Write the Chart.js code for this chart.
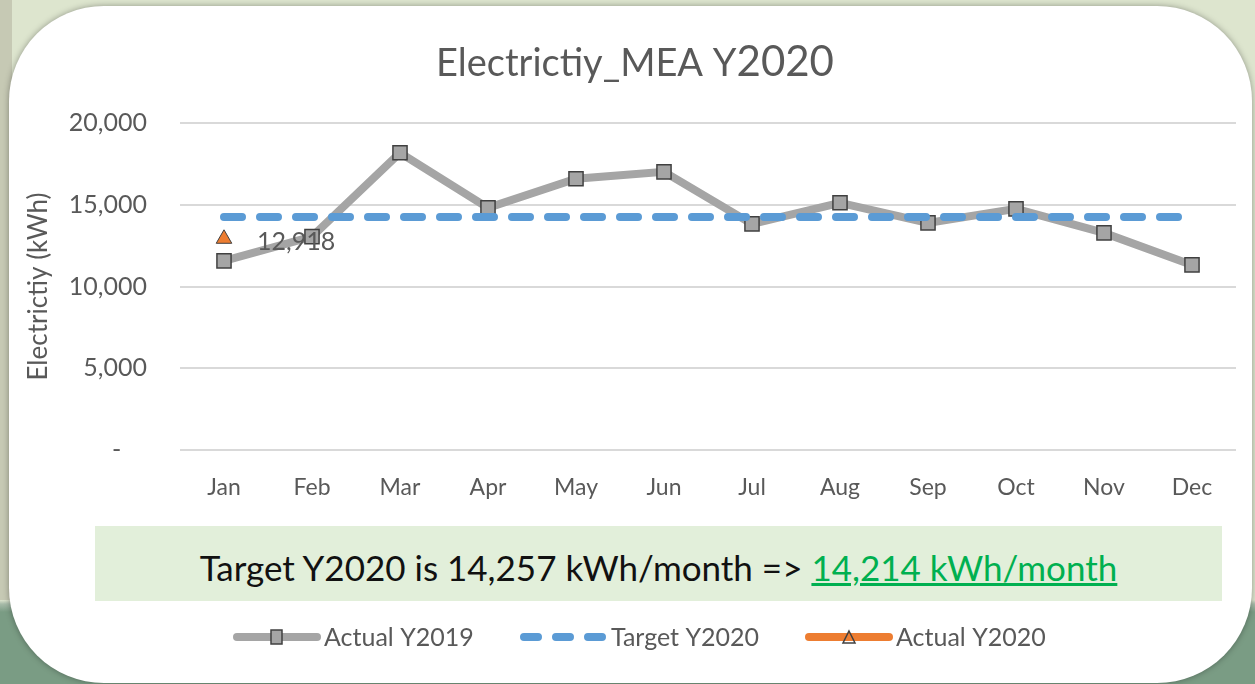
<!DOCTYPE html>
<html>
<head>
<meta charset="utf-8">
<script src="https://cdn.jsdelivr.net/npm/chart.js@4.4.0/dist/chart.umd.min.js"></script>
<style>
  html, body { margin: 0; padding: 0; }
  body {
    width: 1255px; height: 684px; overflow: hidden; position: relative;
    background: linear-gradient(to bottom, #dde5ce 0px, #dde5ce 600px, #a7bba9 604px, #7a9c84 612px, #7a9c84 684px);
    font-family: Lato, "Liberation Sans", sans-serif;
  }
  .strip { position: absolute; left: 0; top: 0; width: 12px; height: 600px; background: #c6c9b4; }
  .card {
    position: absolute; left: 9px; top: 6px; width: 1243px; height: 677px;
    background: #fff; border-radius: 95px; box-shadow: 0 0 6px rgba(0,0,0,0.35);
  }
  .target-box {
    position: absolute; left: 95px; top: 526px; width: 1127px; height: 75px;
    background: #e2efda; text-align: center; font-size: 35px; line-height: 75px;
    color: #111; box-sizing: border-box; padding-top: 4px; white-space: nowrap;
  }
  .target-box u { color: #00b050; }
  canvas { position: absolute; left: 0; top: 0; }
</style>
</head>
<body>
<div class="strip"></div>
<div class="card"></div>
<div class="target-box">Target Y2020 is 14,257 kWh/month =&gt; <u>14,214 kWh/month</u></div>
<canvas id="chart" width="1255" height="684"></canvas>
<script>
// =================== DATA ===================
const months = ["Jan", "Feb", "Mar", "Apr", "May", "Jun", "Jul", "Aug", "Sep", "Oct", "Nov", "Dec"];
const actual2019 = [11570, 13050, 18180, 14810, 16590, 17010, 13830, 15120, 13890, 14750, 13280, 11320];
const target2020 = [14257, 14257, 14257, 14257, 14257, 14257, 14257, 14257, 14257, 14257, 14257, 14257];
const actual2020 = [12918, null, null, null, null, null, null, null, null, null, null, null];
const yTicks = [0, 5000, 10000, 15000, 20000];

const FONT = "Lato, 'Liberation Sans', sans-serif";
const GREY_TEXT = "#595959";

// title with the bigger "2020" part
const titlePlugin = {
  id: "titleDraw",
  afterDraw(chart) {
    const ctx = chart.ctx;
    ctx.save();
    ctx.fillStyle = GREY_TEXT;
    ctx.textBaseline = "alphabetic";
    const a = "Electrictiy_MEA Y", b = "2020";
    ctx.font = "38px " + FONT;
    const wa = ctx.measureText(a).width;
    ctx.font = "42px " + FONT;
    const wb = ctx.measureText(b).width;
    const x0 = 635 - (wa + wb) / 2;
    ctx.font = "38px " + FONT;
    ctx.textAlign = "left";
    ctx.fillText(a, x0, 76);
    ctx.font = "42px " + FONT;
    ctx.fillText(b, x0 + wa, 76);
    ctx.restore();
  }
};

// value label next to the Actual Y2020 point
const labelPlugin = {
  id: "pointLabel",
  afterDatasetsDraw(chart) {
    const ctx = chart.ctx;
    const meta = chart.getDatasetMeta(2);
    ctx.save();
    ctx.font = "25px " + FONT;
    ctx.fillStyle = GREY_TEXT;
    ctx.textAlign = "left";
    ctx.textBaseline = "middle";
    meta.data.forEach((pt, i) => {
      if (actual2020[i] == null) return;
      ctx.fillText(actual2020[i].toLocaleString("en-US"), pt.x + 33, pt.y + 3);
    });
    ctx.restore();
  }
};

// excel-like legend under the green box
const legendPlugin = {
  id: "excelLegend",
  afterDraw(chart) {
    const ctx = chart.ctx;
    const y = 637;
    const starts = [233, 520, 805];
    ctx.save();
    chart.data.datasets.forEach((ds, i) => {
      const x = starts[i];
      ctx.strokeStyle = ds.borderColor;
      ctx.lineWidth = 8;
      ctx.lineCap = "round";
      ctx.setLineDash(ds.borderDash ? [14, 18] : []);
      ctx.beginPath();
      ctx.moveTo(x + 4, y);
      ctx.lineTo(x + 84, y);
      ctx.stroke();
      ctx.setLineDash([]);
      if (ds.pointStyle === "rect") {
        ctx.fillStyle = ds.pointBackgroundColor;
        ctx.fillRect(x + 38, y - 7, 11, 14);
        ctx.lineWidth = 1.5;
        ctx.strokeStyle = "#404040";
        ctx.strokeRect(x + 38, y - 7, 11, 14);
      } else if (ds.pointStyle === "triangle") {
        ctx.beginPath();
        ctx.moveTo(x + 44, y - 6);
        ctx.lineTo(x + 50, y + 6);
        ctx.lineTo(x + 38, y + 6);
        ctx.closePath();
        ctx.lineWidth = 1.5;
        ctx.strokeStyle = "#404040";
        ctx.stroke();
      }
      ctx.font = "25px " + FONT;
      ctx.fillStyle = GREY_TEXT;
      ctx.textAlign = "left";
      ctx.textBaseline = "middle";
      ctx.fillText(ds.label, x + 91, y + 1);
    });
    ctx.restore();
  }
};

new Chart(document.getElementById("chart"), {
  type: "line",
  data: {
    labels: months,
    datasets: [
      {
        label: "Actual Y2019",
        data: actual2019,
        borderColor: "#a5a5a5",
        borderWidth: 8,
        pointStyle: "rect",
        pointRadius: 10,
        pointBackgroundColor: "#a5a5a5",
        pointBorderColor: "#404040",
        pointBorderWidth: 1.5,
        tension: 0,
        order: 2
      },
      {
        label: "Target Y2020",
        data: target2020,
        borderColor: "#5b9bd5",
        borderWidth: 8,
        borderDash: [18, 18],
        borderCapStyle: "round",
        pointRadius: 0,
        order: 1
      },
      {
        label: "Actual Y2020",
        data: actual2020,
        borderColor: "#ed7d31",
        borderWidth: 8,
        pointStyle: "triangle",
        pointRadius: 9,
        pointBackgroundColor: "#ed7d31",
        pointBorderColor: "#404040",
        pointBorderWidth: 1,
        order: 0
      }
    ]
  },
  plugins: [titlePlugin, labelPlugin, legendPlugin],
  options: {
    responsive: false,
    animation: false,
    layout: { padding: { left: 10, right: 19, top: 123, bottom: 174 } },
    plugins: {
      legend: { display: false },
      title: { display: false },
      tooltip: { enabled: false }
    },
    scales: {
      x: {
        offset: true,
        grid: { display: false, drawTicks: false },
        border: { display: false },
        ticks: { color: GREY_TEXT, font: { family: FONT, size: 23 }, padding: 24, maxRotation: 0 },
        afterFit(scale) { scale.height = 60; }
      },
      y: {
        min: 0,
        max: 20000,
        afterBuildTicks(scale) { scale.ticks = yTicks.map(v => ({ value: v })); },
        grid: { color: "#d9d9d9", lineWidth: 2, drawTicks: false },
        border: { display: false },
        ticks: {
          color: GREY_TEXT,
          font: { family: FONT, size: 25 },
          padding: 33,
          callback: v => v === 0 ? "-    " : v.toLocaleString("en-US")
        },
        title: {
          display: true,
          text: "Electrictiy (kWh)",
          color: GREY_TEXT,
          font: { family: FONT, size: 26 },
          padding: { top: 13, bottom: 0 }
        },
        afterFit(scale) { scale.width = 170; }
      }
    }
  }
});
</script>
</body>
</html>
